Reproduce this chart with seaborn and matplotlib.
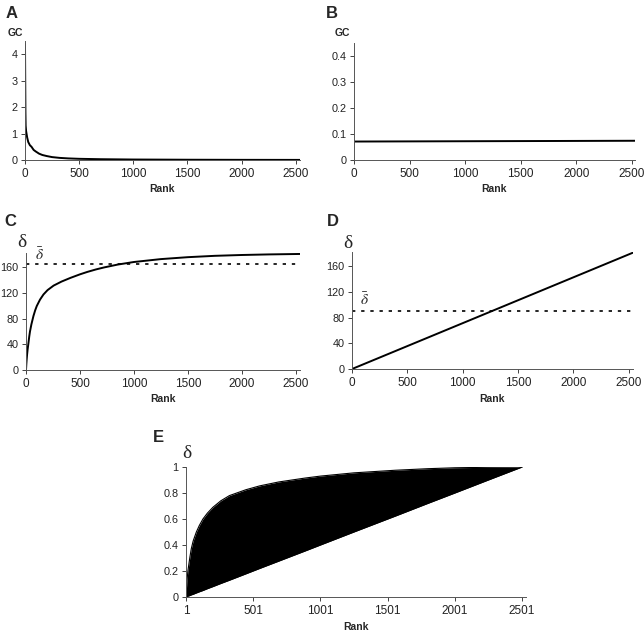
import seaborn as sns
import matplotlib.pyplot as plt
import pandas as pd

# panel A: GC by rank (heterogeneous)
rank_a = [0, 2, 4, 6, 10, 20, 30, 45, 60, 80, 100, 130, 160, 200, 250, 320, 400, 500, 700, 1000, 1500, 2000, 2540]
gc_a = [4.4, 3.0, 1.8, 1.3, 1.1, 0.85, 0.68, 0.56, 0.5, 0.38, 0.32, 0.24, 0.19, 0.15, 0.11, 0.08,
        0.06, 0.045, 0.03, 0.018, 0.01, 0.006, 0.004]

# panel B: GC by rank (uniform)
rank_b = [0, 2540]
gc_b = [0.071, 0.074]

# panel C: cumulative delta (heterogeneous)
rank_c = [0, 3, 6, 10, 15, 22, 30, 37, 50, 69, 85, 100, 130, 162, 200, 256, 330, 412, 500, 569,
          650, 725, 850, 1000, 1250, 1500, 1750, 2000, 2250, 2540]
delta_c = [0, 9, 16, 24, 32, 41, 52, 60, 71, 84, 92.8, 99.6, 109.5, 117.5, 124.3, 131.3, 137.6,
           143.3, 148.8, 152.6, 156.5, 159.6, 164, 168, 172.5, 175.5, 177.6, 178.9, 179.8, 180.5]
mean_c = 165

# panel D: cumulative delta (uniform)
rank_d = [0, 2540]
delta_d = [0, 181]
mean_d = 90.5

# panel E: normalised delta, upper (heterogeneous) and lower (uniform) curves
rank_e = [1, 4, 7, 15, 29, 40, 54, 78, 100, 127, 160, 201, 260, 324, 446, 550, 691, 887, 1001,
          1250, 1557, 1800, 2001, 2250, 2501]
upper_e = [0, 0.06, 0.11, 0.2, 0.3, 0.37, 0.43, 0.5, 0.55, 0.6, 0.645, 0.69, 0.74, 0.78, 0.825,
           0.855, 0.885, 0.915, 0.93, 0.955, 0.975, 0.987, 0.994, 0.998, 1.0]
lower_e = [0, 0.001, 0.002, 0.006, 0.011, 0.016, 0.021, 0.031, 0.04, 0.05, 0.064, 0.08, 0.104,
           0.129, 0.178, 0.22, 0.276, 0.354, 0.4, 0.5, 0.622, 0.72, 0.8, 0.9, 1.0]

rank_ticks = [0, 500, 1000, 1500, 2000, 2500]
rank_ticks_e = [1, 501, 1001, 1501, 2001, 2501]

sns.set_theme(style='ticks')
plt.rcParams['font.family'] = ['Liberation Sans', 'DejaVu Sans']
plt.rcParams['mathtext.fontset'] = 'stix'

fig = plt.figure(figsize=(6.44, 6.34), dpi=100)
W, H = 644, 634


def add_ax(left, right, bottom, top):
    return fig.add_axes([left / W, 1 - bottom / H, (right - left) / W, (bottom - top) / H])


def style(ax, xticks, yticks, ylim, xlim):
    ax.set_xlim(*xlim)
    ax.set_ylim(*ylim)
    ax.set_xticks(xticks)
    ax.set_yticks(yticks)
    ax.tick_params(length=3, width=0.6, pad=3, colors='#222222')
    ax.tick_params(axis='x', labelsize=8.5)
    ax.tick_params(axis='y', labelsize=7.8, pad=2.5)
    for s in ['top', 'right']:
        ax.spines[s].set_visible(False)
    for s in ['left', 'bottom']:
        ax.spines[s].set_linewidth(0.7)
        ax.spines[s].set_color('#555555')
    ax.set_xlabel('Rank', fontsize=7.5, fontweight='bold', labelpad=3)
    ax.set_ylabel('')


serif = ['Liberation Serif', 'DejaVu Serif']
dots = (0, (2, 3.5))

# A
axA = add_ax(25, 300, 160, 41)
sns.lineplot(x=rank_a, y=gc_a, ax=axA, color='black', linewidth=1.4)
style(axA, rank_ticks, [0, 1, 2, 3, 4], (0, 4.5), (0, 2540))
fig.text(6 / W, 1 - 14 / H, 'A', fontsize=12, fontweight='bold', va='center')
fig.text(8 / W, 1 - 33 / H, 'GC', fontsize=7.5, fontweight='bold', va='center')

# B
axB = add_ax(354, 635, 160, 43)
sns.lineplot(x=rank_b, y=gc_b, ax=axB, color='black', linewidth=1.4)
style(axB, rank_ticks, [0, 0.1, 0.2, 0.3, 0.4], (0, 0.45), (0, 2530))
axB.set_yticklabels(['0', '0.1', '0.2', '0.3', '0.4'])
fig.text(326 / W, 1 - 14 / H, 'B', fontsize=12, fontweight='bold', va='center')
fig.text(335 / W, 1 - 33 / H, 'GC', fontsize=7.5, fontweight='bold', va='center')

# C
axC = add_ax(26, 300, 370, 253)
sns.lineplot(x=rank_c, y=delta_c, ax=axC, color='black', linewidth=1.4)
axC.axhline(mean_c, color='black', linewidth=1.2, linestyle=dots)
style(axC, rank_ticks, [0, 40, 80, 120, 160], (0, 182), (0, 2540))
axC.text(125, mean_c + 1, r'$\bar{\delta}$', fontsize=11, va='bottom', ha='center')
fig.text(4 / W, 1 - 221 / H, 'C', fontsize=12, fontweight='bold', va='center')
fig.text(17 / W, 1 - 242 / H, 'δ', fontsize=14, family=serif, va='center')

# D
axD = add_ax(352, 633, 369, 252)
sns.lineplot(x=rank_d, y=delta_d, ax=axD, color='black', linewidth=1.4)
axD.axhline(mean_d, color='black', linewidth=1.2, linestyle=dots)
style(axD, rank_ticks, [0, 40, 80, 120, 160], (0, 182), (0, 2540))
axD.text(110, mean_d + 4, r'$\bar{\delta}$', fontsize=11, va='bottom', ha='center')
fig.text(327 / W, 1 - 221 / H, 'D', fontsize=12, fontweight='bold', va='center')
fig.text(343 / W, 1 - 243 / H, 'δ', fontsize=14, family=serif, va='center')

# E
axE = add_ax(186, 526, 597, 467)
df_e = pd.DataFrame({'rank': rank_e, 'upper': upper_e, 'lower': lower_e})
sns.lineplot(data=df_e, x='rank', y='upper', ax=axE, color='black', linewidth=0.8)
sns.lineplot(data=df_e, x='rank', y='lower', ax=axE, color='black', linewidth=0.8)
axE.fill_between(df_e['rank'], df_e['lower'], df_e['upper'], color='black', linewidth=0)
style(axE, rank_ticks_e, [0, 0.2, 0.4, 0.6, 0.8, 1], (0, 1), (1, 2530))
axE.set_yticklabels(['0', '0.2', '0.4', '0.6', '0.8', '1'])
fig.text(153 / W, 1 - 438 / H, 'E', fontsize=12, fontweight='bold', va='center')
fig.text(182 / W, 1 - 453 / H, 'δ', fontsize=14, family=serif, va='center')

fig.savefig('out.png', dpi=100, facecolor='white')
